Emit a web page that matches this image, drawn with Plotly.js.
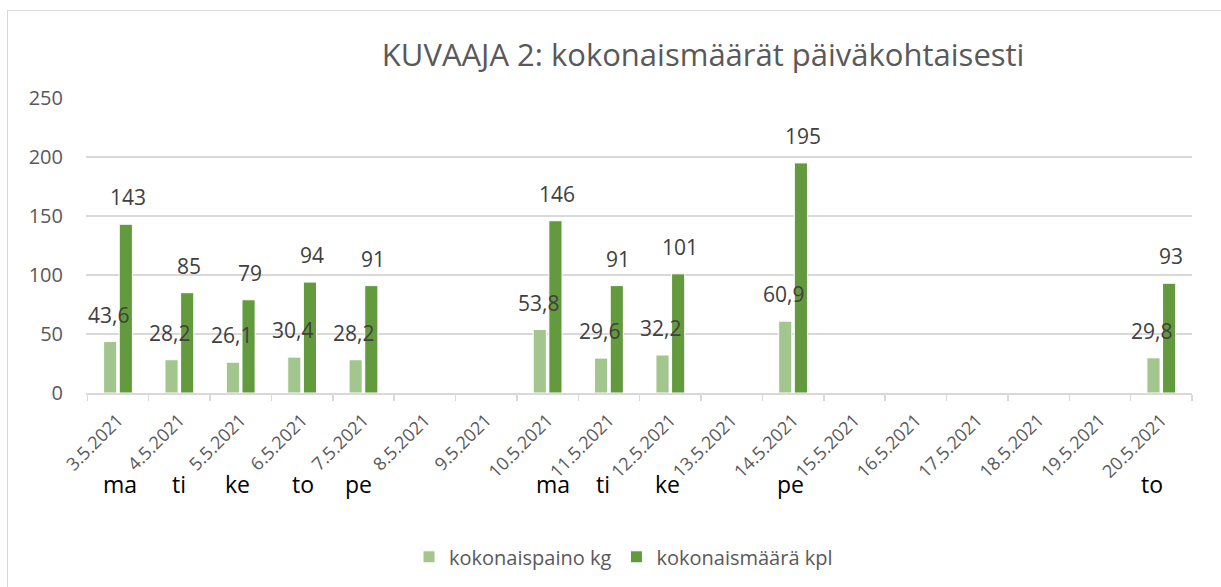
<!DOCTYPE html>
<html>
<head>
<meta charset="utf-8">
<script src="https://cdn.plot.ly/plotly-3.0.1.min.js"></script>
<style>
  html, body { margin: 0; padding: 0; background: #fff; }
  #wrap { position: relative; width: 1221px; height: 587px; overflow: hidden; }
  #chart { position: absolute; left: 0; top: 0; width: 1221px; height: 587px; }
  #frame { position: absolute; left: 7px; top: 10px; width: 1240px; height: 600px;
           border-left: 1.5px solid #d9d9d9; border-top: 1.5px solid #d9d9d9; pointer-events: none; }
</style>
</head>
<body>
<div id="wrap">
  <div id="chart"></div>
  <div id="frame"></div>
</div>
<script>
// ---- data ----
const dates = ["3.5.2021","4.5.2021","5.5.2021","6.5.2021","7.5.2021","8.5.2021","9.5.2021",
               "10.5.2021","11.5.2021","12.5.2021","13.5.2021","14.5.2021","15.5.2021",
               "16.5.2021","17.5.2021","18.5.2021","19.5.2021","20.5.2021"];
const weightKg = [43.6, 28.2, 26.1, 30.4, 28.2, null, null, 53.8, 29.6, 32.2, null, 60.9,
                  null, null, null, null, null, 29.8];
const countKpl = [143, 85, 79, 94, 91, null, null, 146, 91, 101, null, 195,
                  null, null, null, null, null, 93];
const seriesNames = ["kokonaispaino kg", "kokonaismäärä kpl"];
const dayLabels = ["ma", "ti", "ke", "to", "pe", "ma", "ti", "ke", "pe", "to"];
const dayLabelPos = [0.04, 1.0, 1.95, 3.02, 3.92, 7.08, 7.91, 8.96, 10.96, 16.85];
const yTicks = [0, 50, 100, 150, 200, 250];
const titleText = "KUVAAJA 2: kokonaismäärät päiväkohtaisesti";

const lightGreen = "#a3c68e";
const darkGreen = "#629a3d";
const FONT = "Open Sans, sans-serif";

const traces = [
  { type: "bar", name: seriesNames[0], x: dates, y: weightKg,
    marker: { color: lightGreen, line: { color: "#ffffff", width: 1 } }, hoverinfo: "x+y" },
  { type: "bar", name: seriesNames[1], x: dates, y: countKpl,
    marker: { color: darkGreen, line: { color: "#ffffff", width: 1 } }, hoverinfo: "x+y" }
];

function fmt(v, dec) {
  return dec ? v.toFixed(1).replace(".", ",") : String(v);
}

const annotations = [];
const offs = [-9.5, 9.5];
[weightKg, countKpl].forEach((arr, s) => {
  arr.forEach((v, i) => {
    if (v === null) return;
    annotations.push({
      x: dates[i], y: v, xref: "x", yref: "y",
      text: fmt(v, s === 0), showarrow: false,
      xshift: offs[s], yshift: 11, yanchor: "bottom", xanchor: "center",
      font: { family: FONT, size: 21, color: "#404040" }
    });
  });
});
dayLabels.forEach((d, k) => {
  annotations.push({
    x: dayLabelPos[k], y: -0.31, xref: "x", yref: "paper",
    text: d, showarrow: false, xanchor: "center", yanchor: "middle",
    font: { family: FONT, size: 23, color: "#000000" }
  });
});

const layout = {
  width: 1221, height: 587,
  margin: { l: 86, r: 29, t: 98, b: 193, pad: 0 },
  paper_bgcolor: "rgba(0,0,0,0)", plot_bgcolor: "#ffffff",
  title: { text: titleText, x: 0.558, xref: "paper", xanchor: "center",
           y: 0.906, yref: "container", yanchor: "middle",
           font: { family: FONT, size: 31, color: "#595959" } },
  barmode: "group", bargap: 0.49, bargroupgap: 0.16,
  xaxis: {
    type: "category", tickangle: -45, showgrid: false,
    showline: true, linecolor: "#d9d9d9", linewidth: 1.5,
    ticks: "outside", tickson: "boundaries", ticklen: 6, tickcolor: "#d9d9d9", tickwidth: 1.5,
    ticklabelstandoff: 8,
    tickfont: { family: FONT, size: 18, color: "#595959" },
    fixedrange: true
  },
  yaxis: {
    range: [0, 250], tickvals: yTicks, ticktext: yTicks.map(String),
    showgrid: true, gridcolor: "#d9d9d9", gridwidth: 1.5,
    zeroline: false, showline: false, ticks: "",
    ticklabelstandoff: 22,
    tickfont: { family: FONT, size: 20, color: "#595959" },
    fixedrange: true
  },
  showlegend: true,
  legend: { orientation: "h", x: 0.486, xanchor: "center", y: -0.55, yanchor: "middle",
            font: { family: FONT, size: 20, color: "#595959" }, itemwidth: 30,
            tracegroupgap: 0 },
  annotations: annotations
};

Plotly.newPlot("chart", traces, layout, { displayModeBar: false, staticPlot: true });
</script>
</body>
</html>
